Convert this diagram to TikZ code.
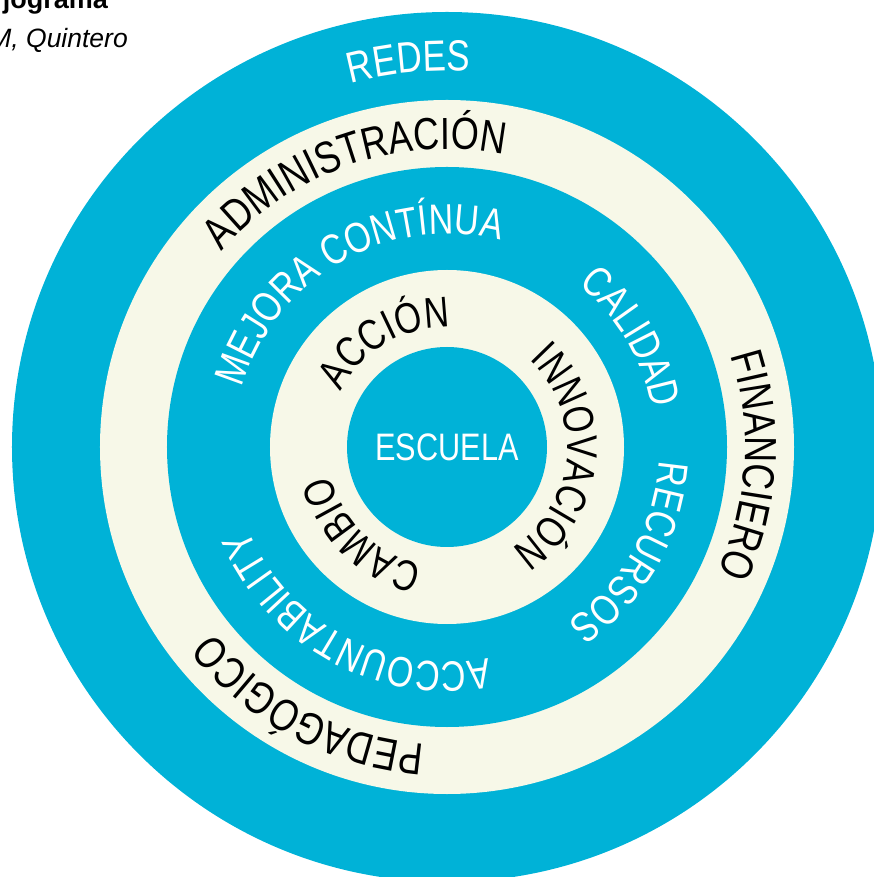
\documentclass[tikz,border=0pt]{standalone}
\usepackage{fontspec}
\setmainfont{Liberation Sans}
\newfontfamily\ringfont[FakeStretch=0.8]{Liberation Sans}
\usetikzlibrary{decorations.text}
\definecolor{ringblue}{RGB}{0,178,215}
\definecolor{ringcream}{RGB}{247,248,232}
% label formats of the rings
\newcommand\outerlbl{\color{white}\ringfont\fontsize{43.5pt}{48pt}\selectfont}
\newcommand\widelbl{\color{black}\ringfont\fontsize{45pt}{50pt}\selectfont}
\newcommand\midlbl{\color{white}\ringfont\fontsize{42.5pt}{48pt}\selectfont}
\newcommand\innerlbl{\color{black}\ringfont\fontsize{43pt}{48pt}\selectfont}
% word bent clockwise round the centre: baseline radius, mid angle, format, word
\newcommand\ringword[4]{%
  \path[decorate,decoration={text along path,text align=center,text={|#3|#4}}]
    ({#2+75}:#1) arc[start angle={#2+75},end angle={#2-75},radius=#1];}

\begin{document}
\begin{tikzpicture}
  \useasboundingbox (-447pt,-430pt) rectangle (426pt,447pt);
  % the five discs, outside in
  \foreach \rad/\col in {435/ringblue,347/ringcream,280/ringblue,177/ringcream,100/ringblue}
    \fill[\col] (0,0) circle[radius=\rad pt];
  % caption cut off at the page corner
  \node[anchor=base east,inner sep=0pt,font=\bfseries\fontsize{27pt}{30pt}\selectfont]
    (title) at (-339pt,438.7pt) {jograma};
  \node[anchor=base east,inner sep=0pt,font=\itshape\fontsize{26.5pt}{30pt}\selectfont]
    (author) at (-319pt,399pt) {M, Quintero};
  % outer blue ring
  \ringword{376pt}{95.7}{\outerlbl}{REDES}
  % wide cream ring
  \ringword{298pt}{109}{\widelbl}{ADMINISTRACIÓN}
  \ringword{298pt}{-3.5}{\widelbl}{FINANCIERO}
  \ringword{298pt}{242}{\widelbl}{PEDAGÓGICO}
  % middle blue ring
  \ringword{213pt}{119.7}{\midlbl}{MEJORA CONTÍNUA}
  \ringword{209pt}{30.8}{\midlbl}{CALIDAD}
  \ringword{213pt}{-29.6}{\midlbl}{RECURSOS}
  \ringword{215pt}{241.8}{\midlbl}{ACCOUNTABILITY}
  % inner cream ring
  \ringword{120pt}{120.6}{\innerlbl}{ACCIÓN}
  \ringword{120pt}{-5.5}{\innerlbl}{INNOVACIÓN}
  \ringword{120pt}{226}{\innerlbl}{CAMBIO}
  % centre
  \node[inner sep=0pt,text=white,font=\ringfont\fontsize{38.3pt}{42pt}\selectfont]
    (escuela) at (0,0) {ESCUELA};
\end{tikzpicture}
\end{document}
